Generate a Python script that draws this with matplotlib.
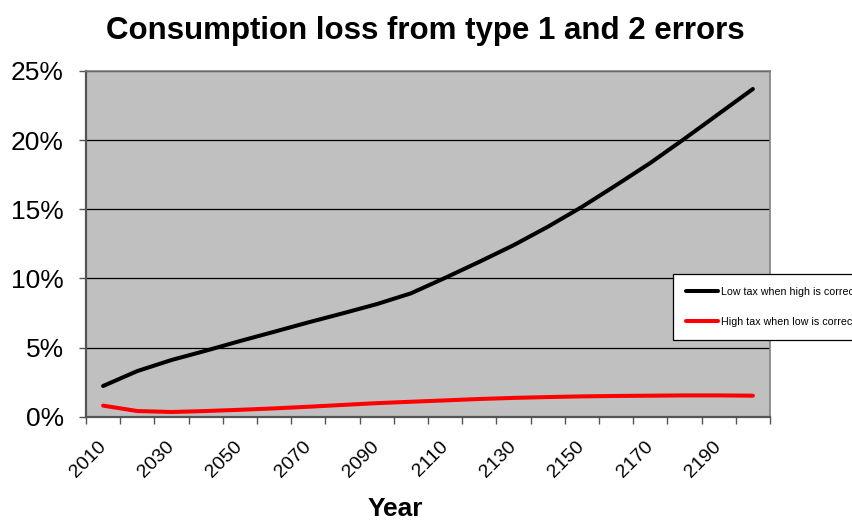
import numpy as np
import matplotlib
matplotlib.use("Agg")
import matplotlib.pyplot as plt
from matplotlib.ticker import PercentFormatter

plt.rcParams['font.family'] = ['Liberation Sans', 'DejaVu Sans']

years = [2010, 2020, 2030, 2040, 2050, 2060, 2070, 2080, 2090, 2100,
         2110, 2120, 2130, 2140, 2150, 2160, 2170, 2180, 2190, 2200]
# consumption loss, percent
low_tax = [2.22, 3.30, 4.10, 4.77, 5.47, 6.14, 6.82, 7.47, 8.14, 8.92,
           10.04, 11.20, 12.40, 13.73, 15.17, 16.74, 18.35, 20.10, 21.90, 23.70]
high_tax = [0.80, 0.41, 0.34, 0.41, 0.50, 0.60, 0.72, 0.85, 0.98, 1.08,
            1.18, 1.28, 1.36, 1.42, 1.47, 1.50, 1.52, 1.54, 1.54, 1.52]
series_names = ["Low tax when high is correct", "High tax when low is correct"]

fig = plt.figure(figsize=(8.52, 5.21), dpi=100)
ax = fig.add_axes([86 / 852, 1 - 416.7 / 521, 684 / 852, 345.7 / 521])
ax.set_facecolor('#C0C0C0')

x = np.arange(len(years))
ax.plot(x, low_tax, color='black', lw=2.9, solid_capstyle='round', label=series_names[0], zorder=3)
ax.plot(x, high_tax, color='#FF0000', lw=2.9, solid_capstyle='round', label=series_names[1], zorder=3)

ax.set_xlim(-0.5, len(years) - 0.5)
ax.set_ylim(0, 25)

# y axis: percent ticks every 5
ax.set_yticks([0, 5, 10, 15, 20, 25])
ax.yaxis.set_major_formatter(PercentFormatter(decimals=0))
ax.tick_params(axis='y', direction='out', length=5, width=1, color='#555555',
               labelsize=19, pad=11)
ax.yaxis.grid(True, color='black', lw=0.9)
ax.set_axisbelow(True)

# x axis: tick marks between categories, labels on every other category
ax.set_xticks(np.arange(-0.5, len(years), 1))
ax.set_xticklabels([])
ax.tick_params(axis='x', which='major', direction='out', length=5, width=1, color='#555555')
ax.set_xticks(x[::2], minor=True)
ax.set_xticklabels([str(y) for y in years[::2]], minor=True, rotation=45,
                   ha='right', va='center', rotation_mode='anchor')
ax.tick_params(axis='x', which='minor', length=0, labelsize=14, pad=20)

for side in ['left', 'bottom']:
    ax.spines[side].set_color('#555555')
    ax.spines[side].set_linewidth(1.6)
for side in ['top', 'right']:
    ax.spines[side].set_color('#808080')
    ax.spines[side].set_linewidth(1.2)

fig.text(425 / 852, 1 - 31 / 521, "Consumption loss from type 1 and 2 errors",
         ha='center', va='center', fontsize=22.5, fontweight='bold')
fig.text(395 / 852, 1 - 509 / 521, "Year", ha='center', va='center',
         fontsize=19, fontweight='bold')

# legend sits partly past the right edge of the figure
leg = fig.legend(loc='upper left', bbox_to_anchor=(673 / 852, 1 - 274 / 521),
                 fontsize=7.7, handlelength=3.0, handletextpad=0.3,
                 labelspacing=1.9, borderpad=1.2, borderaxespad=0,
                 fancybox=False, framealpha=1, edgecolor='black')
leg.get_frame().set_linewidth(0.9)

fig.savefig("out.png", dpi=100)
